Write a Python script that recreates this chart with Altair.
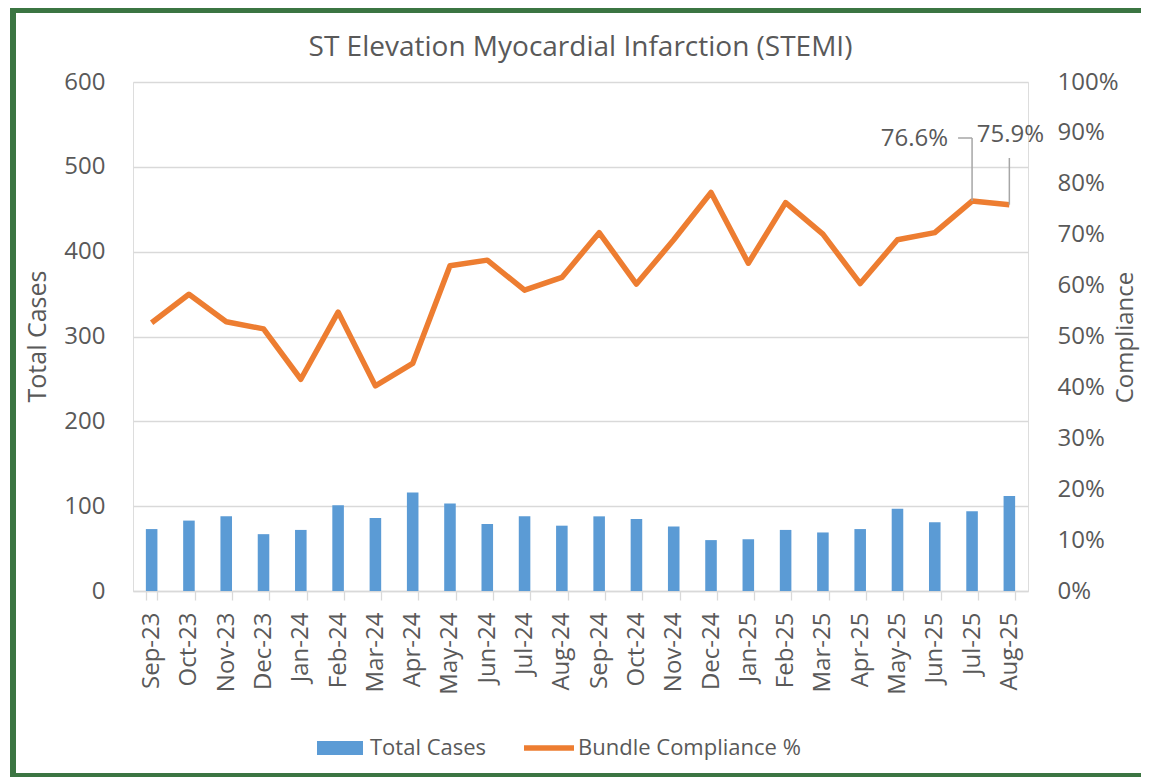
import altair as alt
import pandas as pd

months = ["Sep-23", "Oct-23", "Nov-23", "Dec-23", "Jan-24", "Feb-24", "Mar-24", "Apr-24",
          "May-24", "Jun-24", "Jul-24", "Aug-24", "Sep-24", "Oct-24", "Nov-24", "Dec-24",
          "Jan-25", "Feb-25", "Mar-25", "Apr-25", "May-25", "Jun-25", "Jul-25", "Aug-25"]
total_cases = [73, 83, 88, 67, 72, 101, 86, 116, 103, 79, 88, 77,
               88, 85, 76, 60, 61, 72, 69, 73, 97, 81, 94, 112]
compliance = [0.527, 0.583, 0.529, 0.515, 0.416, 0.548, 0.403, 0.447, 0.639, 0.650, 0.591, 0.616,
              0.704, 0.603, 0.690, 0.783, 0.644, 0.763, 0.701, 0.604, 0.690, 0.704, 0.766, 0.759]

BLUE = "#5B9BD5"
ORANGE = "#ED7D31"
GREY = "#595959"
GRID = "#D9D9D9"
FONT = "Open Sans"
GREEN = "#3B7542"

W, H = 895, 509
PAD = {"left": 125, "top": 74, "right": 113, "bottom": 186}

df = pd.DataFrame({"month": months, "cases": total_cases, "pct": compliance})
df["s_bar"] = "Total Cases"
df["s_line"] = "Bundle Compliance %"
df["label"] = [f"{v * 100:.1f}%" for v in compliance]

x_enc = alt.X("month:N", sort=months, title=None,
              scale=alt.Scale(paddingInner=0.69, paddingOuter=0.345),
              axis=alt.Axis(labelAngle=270, labelFontSize=24, labelColor=GREY, labelFont=FONT,
                            domainColor=GRID, domainWidth=1.3, tickColor=GRID, tickWidth=1.3,
                            tickSize=9, tickBand="extent", labelPadding=12, grid=False))

y_left = alt.Y("cases:Q", title="Total Cases",
               scale=alt.Scale(domain=[0, 600]),
               axis=alt.Axis(values=[0, 100, 200, 300, 400, 500, 600], grid=True, gridColor=GRID,
                             gridWidth=1.3, domain=False, ticks=False, labelPadding=28,
                             labelFontSize=24, labelColor=GREY, labelFont=FONT,
                             titleFontSize=25, titleColor=GREY, titleFont=FONT, titleFontWeight="normal",
                             titleAngle=270, titleX=-96, titleY=254, titleAlign="center",
                             titleBaseline="middle"))

y_right_axis = alt.Axis(orient="right", values=[i / 10 for i in range(11)], format=".0%",
                        grid=False, domain=False, ticks=False, labelPadding=29,
                        labelFontSize=24, labelColor=GREY, labelFont=FONT,
                        titleFontSize=24, titleColor=GREY, titleFont=FONT, titleFontWeight="normal",
                        titleAngle=270, titleX=97, titleY=255, titleAlign="center",
                        titleBaseline="middle")
y_right = alt.Y("pct:Q", title="Compliance", scale=alt.Scale(domain=[0, 1]), axis=y_right_axis)

base = alt.Chart(df)

bars = base.mark_bar().encode(
    x=x_enc,
    y=y_left,
    fill=alt.Fill("s_bar:N", scale=alt.Scale(domain=["Total Cases"], range=[BLUE]),
                  legend=alt.Legend(title=None, orient="none", legendX=184, legendY=643,
                                    symbolType="M-1,-0.3H1V0.3H-1Z", symbolSize=2116,
                                    symbolStrokeWidth=0, labelFontSize=22, labelColor=GREY,
                                    labelFont=FONT, labelOffset=7, labelLimit=400)),
)

line = base.mark_line(strokeWidth=5.5, strokeJoin="round").encode(
    x=alt.X("month:N", sort=months),
    y=y_right,
    stroke=alt.Stroke("s_line:N", scale=alt.Scale(domain=["Bundle Compliance %"], range=[ORANGE]),
                      legend=alt.Legend(title=None, orient="none", legendX=388, legendY=638,
                                        symbolType="M-1,0H1", symbolSize=2500,
                                        symbolStrokeWidth=5.5, labelFontSize=22, labelColor=GREY,
                                        labelFont=FONT, labelOffset=1, labelLimit=400)),
)

last_jul = base.transform_filter(alt.datum.month == "Jul-25")
last_aug = base.transform_filter(alt.datum.month == "Aug-25")

lead_color = "#A6A6A6"
jul_v = last_jul.mark_rule(color=lead_color, strokeWidth=1.5).encode(
    x=alt.X("month:N", sort=months), y=y_right, y2=alt.value(56))
jul_h = last_jul.mark_rule(color=lead_color, strokeWidth=1.5, xOffset=-14, x2Offset=0).encode(
    x=alt.X("month:N", sort=months), x2="month:N", y=alt.value(56))
aug_v = last_aug.mark_rule(color=lead_color, strokeWidth=1.5).encode(
    x=alt.X("month:N", sort=months), y=y_right, y2=alt.value(76))

jul_t = last_jul.mark_text(align="right", baseline="middle", dx=-24, fontSize=24,
                           font=FONT, color=GREY).encode(
    x=alt.X("month:N", sort=months), y=alt.value(57), text="label:N")
aug_t = last_aug.mark_text(align="center", baseline="middle", dx=1, fontSize=24,
                           font=FONT, color=GREY).encode(
    x=alt.X("month:N", sort=months), y=alt.value(53), text="label:N")

one = base.transform_filter(alt.datum.month == "Sep-23")
frame_left = one.mark_rule(color=GREEN, strokeWidth=6).encode(
    x=alt.value(-120), y=alt.value(-75), y2=alt.value(697))
frame_top = one.mark_rule(color=GREEN, strokeWidth=6).encode(
    x=alt.value(-123), x2=alt.value(1008), y=alt.value(-72))
frame_bottom = one.mark_rule(color=GREEN, strokeWidth=6).encode(
    x=alt.value(-123), x2=alt.value(1008), y=alt.value(694))

right_layer = alt.layer(line, jul_v, jul_h, aug_v, jul_t, aug_t)

chart = alt.layer(frame_left, frame_top, frame_bottom, bars, right_layer).resolve_scale(
    y="independent", fill="independent", stroke="independent"
).properties(
    width=W, height=H,
    padding=PAD,
    autosize=alt.AutoSizeParams(type="none"),
    title=alt.TitleParams("ST Elevation Myocardial Infarction (STEMI)", fontSize=28, font=FONT,
                          color=GREY, fontWeight="normal", anchor="middle", frame="group",
                          offset=0, dy=58),
).configure_view(stroke="transparent").configure(background="white")

chart.save("out.html", embed_options={"renderer": "svg", "actions": False})
